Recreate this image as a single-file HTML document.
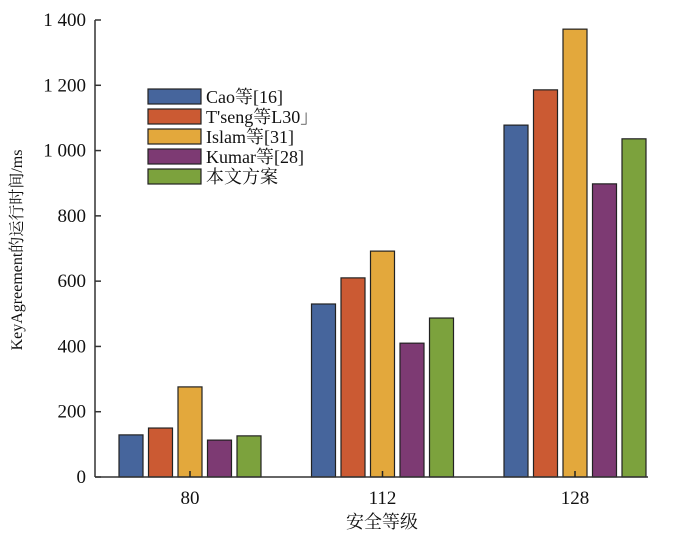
<!DOCTYPE html>
<html><head><meta charset="utf-8"><style>
body{margin:0;background:#fff}
svg text{font-family:"Liberation Serif","Noto Serif CJK SC",serif;fill:#111}
</style></head><body>
<svg id="c" width="700" height="535"></svg>
<script>
const categories=["80","112","128"];
const seriesNames=["Cao等[16]","T'seng等L30」","Islam等[31]","Kumar等[28]","本文方案"];
const seriesColors=["#46659c","#cb5a33","#e3a83c","#7d3a73","#7ca23d"];
const vals0=[129,530,1078];
const vals1=[150,610,1186];
const vals2=[276,692,1372];
const vals3=[113,410,898];
const vals4=[126,487,1036];
const series=[vals0,vals1,vals2,vals3,vals4];
const yTicks=[0,200,400,600,800,1000,1200,1400];
const yTickLabels=["0","200","400","600","800","1 000","1 200","1 400"];
const NS="http://www.w3.org/2000/svg";
const svg=document.getElementById('c');
const L=95,R=648,B=477,T=20,YMAX=1400;
const y=v=>B-(B-T)*v/YMAX;
const x=i=>190+i*192.5;
function mk(t,a,p){const e=document.createElementNS(NS,t);for(const k in a)e.setAttribute(k,a[k]);(p||svg).appendChild(e);return e;}
series.forEach((s,si)=>{s.forEach((v,ci)=>{
 const cx=x(ci)+(si-2)*29.5;
 const r=mk('rect',{x:cx-12,y:y(v),width:24,height:B-y(v),fill:seriesColors[si],stroke:'#222','stroke-width':1.2});
 
 
});});
const ax=mk('line',{x1:L,y1:B,x2:R,y2:B,stroke:'#333','stroke-width':1.5});

const ay=mk('line',{x1:L,y1:B,x2:L,y2:T,stroke:'#333','stroke-width':1.5});

yTicks.forEach((v,i)=>{
 mk('line',{x1:L,y1:y(v),x2:L+6,y2:y(v),stroke:'#333','stroke-width':1.5});
 const t=mk('text',{x:L-9,y:y(v)+6,'text-anchor':'end','font-size':19});
 t.textContent=yTickLabels[i];
 
});
categories.forEach((c,i)=>{
 mk('line',{x1:x(i),y1:B,x2:x(i),y2:B-6,stroke:'#222','stroke-width':1.5});
 const t=mk('text',{x:x(i),y:B+27,'text-anchor':'middle','font-size':19});
 t.textContent=c;
 
});
const xt=mk('text',{x:382,y:528,'text-anchor':'middle','font-size':18});
xt.textContent='安全等级';

const yt=mk('text',{x:0,y:0,'text-anchor':'middle','font-size':16,transform:'translate(22,250) rotate(-90)'});
yt.textContent='KeyAgreement的运行时间/ms';

seriesNames.forEach((n,i)=>{
 const yy=89+i*20;
 const r=mk('rect',{x:148,y:yy,width:53,height:15,fill:seriesColors[i],stroke:'#222','stroke-width':1.2});
 
 const t=mk('text',{x:206,y:yy+14,'font-size':18});
 t.textContent=n;
 
});
</script>
</body></html>
